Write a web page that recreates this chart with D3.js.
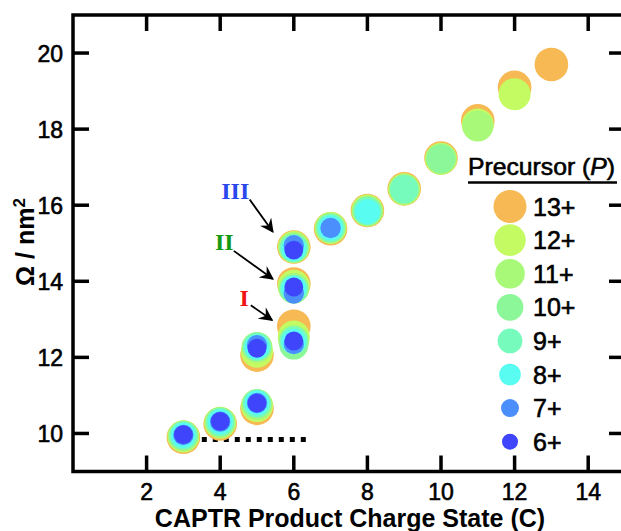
<!DOCTYPE html>
<html>
<head>
<meta charset="utf-8">
<script src="https://cdn.jsdelivr.net/npm/d3@7"></script>
<style>
  html, body { margin: 0; padding: 0; background: #fff; overflow: hidden; }
  svg { display: block; font-family: "Liberation Sans", Arial, sans-serif; }
  .heavy { stroke: #000; stroke-width: 0.6px; }
</style>
</head>
<body>
<div id="chart"></div>
<script>
// axis ticks
const xTicks = [2, 4, 6, 8, 10, 12, 14];
const yTicks = [10, 12, 14, 16, 18, 20];

// precursor charge states, drawn back (13+) to front (6+)
const precursorLabels = ["13+", "12+", "11+", "10+", "9+", "8+", "7+", "6+"];

// [product charge state C, Omega / nm^2] for each precursor
const omega13 = [[3, 9.90], [4, 10.25], [5, 10.66], [5, 12.06], [6, 12.82], [6, 13.93], [6, 14.90], [7, 15.38], [8, 15.86], [9, 16.43], [10, 17.24], [11, 18.22], [12, 19.10], [13, 19.70]];
const omega12 = [[3, 9.92], [4, 10.28], [5, 10.72], [5, 12.15], [6, 12.55], [6, 13.88], [6, 14.90], [7, 15.40], [8, 15.86], [9, 16.42], [10, 17.22], [11, 18.12], [12, 18.92]];
const omega11 = [[3, 9.93], [4, 10.29], [5, 10.76], [5, 12.26], [6, 12.45], [6, 13.82], [6, 14.89], [7, 15.40], [8, 15.85], [9, 16.42], [10, 17.22], [11, 18.08]];
const omega10 = [[3, 9.94], [4, 10.30], [5, 10.78], [5, 12.28], [6, 12.32], [6, 13.80], [6, 14.88], [7, 15.40], [8, 15.85], [9, 16.42], [10, 17.22]];
const omega9 = [[3, 9.95], [4, 10.30], [5, 10.79], [5, 12.28], [6, 12.45], [6, 13.80], [6, 14.87], [7, 15.40], [8, 15.84], [9, 16.42]];
const omega8 = [[3, 9.95], [4, 10.31], [5, 10.80], [5, 12.27], [6, 12.42], [6, 13.82], [6, 14.86], [7, 15.40], [8, 15.83]];
const omega7 = [[3, 9.96], [4, 10.31], [5, 10.80], [5, 12.32], [6, 12.35], [6, 13.68], [6, 14.95], [7, 15.40]];
const omega6 = [[3, 9.97], [4, 10.32], [5, 10.80], [5, 12.24], [6, 12.43], [6, 13.85], [6, 14.82]];
const seriesValues = [omega13, omega12, omega11, omega10, omega9, omega8, omega7, omega6];

// dashed reference level
const refLine = [[3.5, 9.84], [6.4, 9.84]];

// conformer family annotations (text anchor + arrow, in data units)
const annoLabels = ["III", "II", "I"];
const annoText = [[4.41, 16.17], [4.11, 14.82], [4.65, 13.35]];
const annoArrowFrom = [[4.80, 16.15], [4.37, 14.80], [4.83, 13.37]];
const annoArrowTo = [[5.43, 15.30], [5.43, 14.06], [5.41, 12.98]];

// styles
const colors = ["#f6b953", "#c5fb62", "#a8f977", "#8cf798", "#76fbbd", "#58fcf0", "#4a8ffb", "#3e45fb"];
const plotRadius = [16.8, 16, 15.5, 14.4, 14, 12.5, 10.2, 9.4];
const legendRadius = [16.5, 15.8, 14.8, 13.4, 12.4, 10.8, 9, 8];
const annoColors = ["#2a48ee", "#149a14", "#f01414"];

const W = 621, H = 531;
const svg = d3.select("#chart").append("svg")
    .attr("width", W)
    .attr("height", H);

const x = d3.scaleLinear().domain([0, 15]).range([73, 625]);
const y = d3.scaleLinear().domain([9, 21]).range([471.5, 15]);

const tickLen = 16;
const axisW = 3.5;

// frame
svg.append("rect")
    .attr("x", x(0)).attr("y", y(21))
    .attr("width", x(15) - x(0)).attr("height", y(9) - y(21))
    .attr("fill", "none").attr("stroke", "#000").attr("stroke-width", axisW);

// ticks pointing inward on all four sides
const tickG = svg.append("g").attr("stroke", "#000").attr("stroke-width", axisW);
xTicks.forEach(t => {
    tickG.append("line").attr("x1", x(t)).attr("x2", x(t)).attr("y1", y(9)).attr("y2", y(9) - tickLen);
    tickG.append("line").attr("x1", x(t)).attr("x2", x(t)).attr("y1", y(21)).attr("y2", y(21) + tickLen);
});
yTicks.forEach(t => {
    tickG.append("line").attr("x1", x(0)).attr("x2", x(0) + tickLen).attr("y1", y(t)).attr("y2", y(t));
    tickG.append("line").attr("x1", x(15)).attr("x2", x(15) - tickLen).attr("y1", y(t)).attr("y2", y(t));
});

// tick labels
svg.append("g").attr("class", "heavy").selectAll("text").data(xTicks).join("text")
    .attr("x", d => x(d)).attr("y", 500)
    .attr("text-anchor", "middle")
    .attr("font-size", 23)
    .text(d => d);
svg.append("g").attr("class", "heavy").selectAll("text").data(yTicks).join("text")
    .attr("x", x(0) - 10).attr("y", d => y(d) + 8.5)
    .attr("text-anchor", "end")
    .attr("font-size", 23)
    .text(d => d);

// axis titles
svg.append("text")
    .attr("x", 350).attr("y", 527)
    .attr("text-anchor", "middle")
    .attr("font-size", 25).attr("font-weight", "bold")
    .text("CAPTR Product Charge State (C)");

const yTitle = svg.append("text")
    .attr("transform", "translate(34,242) rotate(-90)")
    .attr("text-anchor", "middle")
    .attr("font-size", 25).attr("font-weight", "bold");
yTitle.append("tspan").text("\u03A9 / nm");
yTitle.append("tspan").attr("dy", -9).attr("font-size", 17).text("2");

// dashed reference line
svg.append("path")
    .datum(refLine)
    .attr("d", d3.line().x(d => x(d[0])).y(d => y(d[1])))
    .attr("stroke", "#000").attr("stroke-width", 5)
    .attr("stroke-dasharray", "5,6")
    .attr("fill", "none");

// points, largest precursor first
seriesValues.forEach((vals, i) => {
    svg.append("g").selectAll("circle").data(vals).join("circle")
        .attr("cx", d => x(d[0]))
        .attr("cy", d => y(d[1]))
        .attr("r", plotRadius[i])
        .attr("fill", colors[i]);
});

// annotations
const defs = svg.append("defs");
defs.append("marker")
    .attr("id", "arrowhead")
    .attr("viewBox", "0 0 10 10")
    .attr("refX", 9).attr("refY", 5)
    .attr("markerWidth", 14).attr("markerHeight", 14)
    .attr("markerUnits", "userSpaceOnUse")
    .attr("orient", "auto")
    .append("path")
    .attr("d", "M0,0 L10,5 L0,10 L3.5,5 Z")
    .attr("fill", "#000");

annoLabels.forEach((lab, i) => {
    svg.append("text")
        .attr("x", x(annoText[i][0])).attr("y", y(annoText[i][1]))
        .attr("text-anchor", "middle")
        .attr("font-family", "'Liberation Serif', 'Times New Roman', serif")
        .attr("font-weight", "bold")
        .attr("font-size", 24)
        .attr("fill", annoColors[i])
        .text(lab);
    svg.append("line")
        .attr("x1", x(annoArrowFrom[i][0])).attr("y1", y(annoArrowFrom[i][1]))
        .attr("x2", x(annoArrowTo[i][0])).attr("y2", y(annoArrowTo[i][1]))
        .attr("stroke", "#000").attr("stroke-width", 1.8)
        .attr("marker-end", "url(#arrowhead)");
});

// legend
const legX = 510, legY0 = 206.5, legStep = 33.6;
const legTitle = svg.append("text")
    .attr("class", "heavy")
    .attr("x", 468).attr("y", 175)
    .attr("font-size", 24)
    .attr("textLength", 147).attr("lengthAdjust", "spacingAndGlyphs");
legTitle.append("tspan").text("Precursor (");
legTitle.append("tspan").attr("font-style", "italic").text("P");
legTitle.append("tspan").text(")");
svg.append("line")
    .attr("x1", 468).attr("x2", 617)
    .attr("y1", 182.5).attr("y2", 182.5)
    .attr("stroke", "#000").attr("stroke-width", 2.5);

const legG = svg.append("g");
precursorLabels.forEach((lab, i) => {
    legG.append("circle")
        .attr("cx", legX).attr("cy", legY0 + i * legStep)
        .attr("r", legendRadius[i])
        .attr("fill", colors[i]);
    legG.append("text")
        .attr("class", "heavy")
        .attr("x", 533).attr("y", legY0 + i * legStep + 9)
        .attr("font-size", 25)
        .text(lab);
});
</script>
</body>
</html>
